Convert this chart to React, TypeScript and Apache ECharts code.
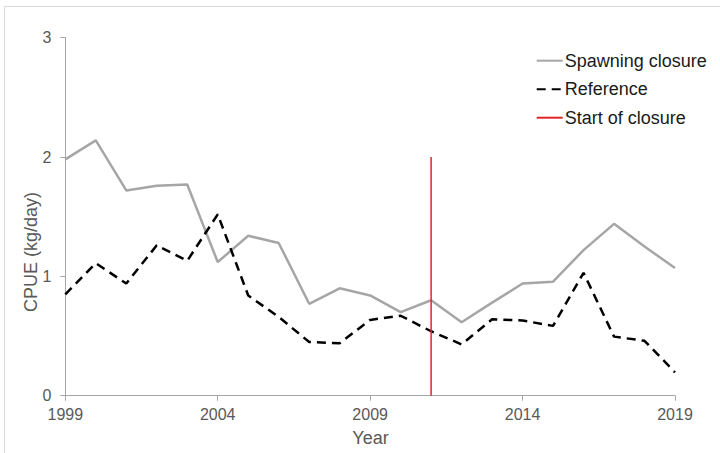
import React, { useEffect, useRef } from "react";
import * as echarts from "echarts";

const years = [1999, 2000, 2001, 2002, 2003, 2004, 2005, 2006, 2007, 2008, 2009, 2010, 2011, 2012, 2013, 2014, 2015, 2016, 2017, 2018, 2019];
const spawningClosure = [1.98, 2.14, 1.72, 1.76, 1.77, 1.12, 1.34, 1.28, 0.77, 0.9, 0.84, 0.7, 0.8, 0.615, 0.78, 0.94, 0.955, 1.22, 1.44, 1.25, 1.07];
const reference = [0.85, 1.11, 0.94, 1.26, 1.13, 1.52, 0.84, 0.66, 0.45, 0.44, 0.635, 0.67, 0.54, 0.43, 0.64, 0.63, 0.585, 1.03, 0.495, 0.46, 0.196];
const closureYear = 2011;
const closureRange = [0, 2];
const seriesNames = ["Spawning closure", "Reference", "Start of closure"];
const xTitle = "Year";
const yTitle = "CPUE (kg/day)";

export default function App() {
  const ref = useRef<HTMLDivElement>(null);
  useEffect(() => {
    document.body.style.margin = "0";
    const chart = echarts.init(ref.current!, null, { renderer: "svg" });
    const font = "Liberation Sans, Arial, sans-serif";
    chart.setOption({
      animation: false,
      backgroundColor: "#ffffff",
      grid: { left: 65.3, right: 45, top: 37.7, bottom: 57.3 },
      xAxis: {
        type: "value",
        min: 1999,
        max: 2019,
        interval: 5,
        axisLine: { show: true, lineStyle: { color: "#a6a6a6", width: 1 } },
        axisTick: { show: true, length: 5, lineStyle: { color: "#a6a6a6" } },
        splitLine: { show: false },
        axisLabel: { color: "#595959", fontSize: 16, fontFamily: font, margin: 11, formatter: (v: number) => String(v) },
      },
      yAxis: {
        type: "value",
        min: 0,
        max: 3,
        interval: 1,
        axisLine: { show: true, lineStyle: { color: "#a6a6a6", width: 1 } },
        axisTick: { show: true, length: 5, lineStyle: { color: "#a6a6a6" } },
        splitLine: { show: false },
        axisLabel: { color: "#595959", fontSize: 16, fontFamily: font, margin: 14 },
      },
      legend: {
        orient: "vertical",
        left: 535.7,
        top: 50.7,
        padding: 0,
        itemWidth: 26,
        itemHeight: 14,
        itemGap: 8.5,
        data: seriesNames,
        itemStyle: { color: "rgba(0,0,0,0)", borderWidth: 0 },
        textStyle: { color: "#1a1a1a", fontSize: 18, fontFamily: font, lineHeight: 20, padding: [0, 0, 0, -3] },
      },
      graphic: [
        {
          type: "rect",
          shape: { x: 4.5, y: 6.5, width: 760, height: 500 },
          style: { fill: "none", stroke: "#d9d9d9", lineWidth: 1 },
          silent: true,
          z: -1,
        },
        {
          type: "text",
          x: 31,
          y: 252,
          rotation: Math.PI / 2,
          style: { text: yTitle, fill: "#595959", font: "18px " + font, align: "center", verticalAlign: "middle" },
        },
        {
          type: "text",
          x: 370.5,
          y: 438,
          style: { text: xTitle, fill: "#595959", font: "18px " + font, align: "center", verticalAlign: "middle" },
        },
      ],
      series: [
        {
          name: seriesNames[0],
          type: "line",
          data: years.map((y, i) => [y, spawningClosure[i]]),
          symbol: "none",
          lineStyle: { color: "#a6a6a6", width: 2.5 },
          itemStyle: { color: "#a6a6a6" },
          z: 2,
        },
        {
          name: seriesNames[1],
          type: "line",
          data: years.map((y, i) => [y, reference[i]]),
          symbol: "none",
          lineStyle: { color: "#000000", width: 2.5, type: [9, 6] },
          itemStyle: { color: "#000000" },
          z: 3,
        },
        {
          name: seriesNames[2],
          type: "line",
          data: closureRange.map((v) => [closureYear, v]),
          symbol: "none",
          lineStyle: { color: "#e0262b", width: 1.5 },
          itemStyle: { color: "#e0262b" },
          z: 4,
        },
      ],
    });
    return () => chart.dispose();
  }, []);
  return <div ref={ref} style={{ position: "absolute", left: 0, top: 0, width: 720, height: 453 }} />;
}
